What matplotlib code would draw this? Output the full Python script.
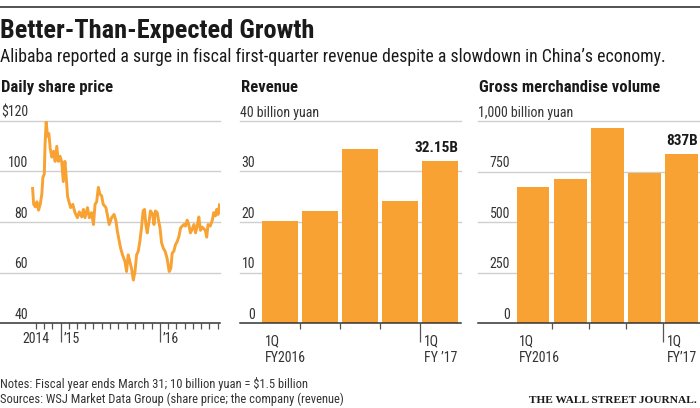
import pandas as pd
import matplotlib
matplotlib.use("Agg")
import matplotlib.pyplot as plt
import matplotlib.font_manager as fm

# pick a narrow sans if one is installed
font_names = {f.name for f in fm.fontManager.ttflist}
font_stretch = {(f.name, f.stretch) for f in fm.fontManager.ttflist}
for font in ['Roboto Condensed', 'Liberation Sans Narrow', 'Open Sans Condensed']:
    if font in font_names:
        plt.rcParams['font.family'] = font
        break
else:
    plt.rcParams['font.family'] = 'DejaVu Sans'
    if ('DejaVu Sans', 'condensed') in font_stretch:
        plt.rcParams['font.stretch'] = 'condensed'

# ---- data ----
price_dates = [
    "2014-09-19", "2014-09-23", "2014-09-29", "2014-10-05", "2014-10-11", "2014-10-17",
    "2014-10-23", "2014-10-27", "2014-11-01", "2014-11-04", "2014-11-08", "2014-11-13",
    "2014-11-18", "2014-11-23", "2014-11-29", "2014-12-05", "2014-12-11", "2014-12-17",
    "2014-12-23", "2014-12-29", "2015-01-04", "2015-01-10", "2015-01-16", "2015-01-20",
    "2015-01-26", "2015-01-31", "2015-02-06", "2015-02-14", "2015-02-22", "2015-03-03",
    "2015-03-10", "2015-03-19", "2015-03-25", "2015-03-31", "2015-04-09", "2015-04-16",
    "2015-04-24", "2015-05-01", "2015-05-07", "2015-05-13", "2015-05-19", "2015-05-25",
    "2015-05-31", "2015-06-06", "2015-06-16", "2015-06-21", "2015-06-28", "2015-07-07",
    "2015-07-16", "2015-07-23", "2015-07-28", "2015-08-04", "2015-08-09", "2015-08-16",
    "2015-08-25", "2015-08-31", "2015-09-06", "2015-09-12", "2015-09-18", "2015-09-25",
    "2015-10-01", "2015-10-07", "2015-10-13", "2015-10-19", "2015-10-25", "2015-10-31",
    "2015-11-05", "2015-11-10", "2015-11-15", "2015-11-22", "2015-11-27", "2015-12-05",
    "2015-12-10", "2015-12-15", "2015-12-22", "2015-12-27", "2016-01-01", "2016-01-07",
    "2016-01-13", "2016-01-20", "2016-01-27", "2016-02-04", "2016-02-10", "2016-02-15",
    "2016-02-21", "2016-02-27", "2016-03-05", "2016-03-11", "2016-03-17", "2016-03-23",
    "2016-03-29", "2016-04-04", "2016-04-10", "2016-04-16", "2016-04-22", "2016-04-28",
    "2016-05-05", "2016-05-11", "2016-05-17", "2016-05-23", "2016-05-29", "2016-06-04",
    "2016-06-10", "2016-06-16", "2016-06-21", "2016-06-26", "2016-07-04", "2016-07-11",
    "2016-07-17", "2016-07-23", "2016-07-28", "2016-08-02", "2016-08-07",
]
price_values = [
    93.3, 87.0, 86.0, 88.0, 84.7, 87.0,
    91.0, 97.7, 99.0, 111.0, 119.7, 114.0,
    115.0, 109.0, 105.7, 108.0, 104.0, 110.0,
    104.0, 106.0, 104.0, 96.0, 104.0, 99.0,
    90.0, 88.0, 85.7, 87.0, 83.7, 81.7,
    84.0, 82.0, 85.0, 81.7, 85.7, 81.7,
    83.7, 79.0, 87.0, 88.0, 93.7, 91.0,
    90.4, 87.0, 85.7, 83.0, 79.0, 81.7,
    83.0, 80.4, 76.4, 72.4, 69.7, 67.0,
    64.4, 60.4, 67.0, 64.4, 61.7, 57.0,
    60.4, 67.0, 68.4, 72.4, 77.7, 84.4,
    85.0, 79.0, 75.7, 80.4, 84.4, 83.0,
    79.0, 84.4, 83.7, 80.4, 77.7, 71.7,
    69.7, 68.4, 65.7, 60.4, 61.7, 67.7,
    68.4, 71.0, 72.4, 74.4, 77.7, 78.4,
    79.0, 78.4, 80.7, 79.0, 75.7, 77.0,
    79.0, 75.7, 78.4, 82.0, 76.7, 78.0,
    77.4, 76.7, 74.0, 79.0, 78.4, 80.4,
    83.7, 82.4, 85.0, 83.0, 86.8,
]
price_ticks = [40, 60, 80, 100, 120]
price_tick_labels = ["40", "60", "80", "100", "$120"]

quarters = ["1Q FY2016", "2Q FY2016", "3Q FY2016", "4Q FY2016", "1Q FY2017"]
revenue = [20.25, 22.17, 34.54, 24.18, 32.15]
revenue_ticks = [0, 10, 20, 30, 40]
revenue_tick_labels = ["0", "10", "20", "30", "40 billion yuan"]
gmv = [673, 713, 965, 741, 837]
gmv_ticks = [0, 250, 500, 750, 1000]
gmv_tick_labels = ["0", "250", "500", "750", "1,000 billion yuan"]

ORANGE = '#f7a233'
GRID = '#cfcfcf'
INK = '#1a1a1a'
TEXT = '#333333'

W, H = 700, 408
fig = plt.figure(figsize=(W / 100, H / 100), dpi=100)


def fx(x):
    return x / W


def fy(y):
    return 1 - y / H


# header
fig.add_artist(plt.Line2D([0, 1], [fy(7), fy(7)], color='#444444', lw=1.3))
fig.text(0, fy(38), "Better-Than-Expected Growth", fontsize=19, fontweight='bold',
         color=INK, va='baseline', ha='left')
fig.text(0, fy(62), "Alibaba reported a surge in fiscal first-quarter revenue despite a slowdown in China\u2019s economy.",
         fontsize=12.8, color=INK, va='baseline', ha='left')

y_top, y_bot = 121, 323


def make_axes(left, right):
    ax = fig.add_axes([fx(left), fy(y_bot), fx(right - left), (y_bot - y_top) / H])
    for s in ax.spines.values():
        s.set_visible(False)
    ax.set_yticks([])
    ax.patch.set_alpha(0)
    return ax


def grid_and_labels(ax, ticks, labels, label_x, ha, top_left=False):
    for i, (t, lab) in enumerate(zip(ticks, labels)):
        if i == 0:
            ax.axhline(t, color='#333333', lw=1.1, zorder=4, clip_on=False)
        else:
            ax.axhline(t, color=GRID, lw=1.0, zorder=0, clip_on=False)
        x, h = label_x, ha
        if top_left and i == len(ticks) - 1:
            x, h = 0, 'left'
        ax.annotate(lab, xy=(x, t), xycoords=('axes fraction', 'data'),
                    xytext=(0, 3), textcoords='offset points',
                    ha=h, va='baseline', fontsize=10, color=TEXT)


# ---- panel 1: share price ----
ax1 = make_axes(0, 220)
dates = pd.to_datetime(price_dates)
ax1.plot(dates, price_values, color=ORANGE, lw=2.1, solid_joinstyle='round', zorder=3)
ax1.set_ylim(40, 120)
ax1.set_xlim(pd.Timestamp("2014-05-22"), pd.Timestamp("2016-08-09"))
grid_and_labels(ax1, price_ticks, price_tick_labels, 28 / 220, 'right')
minor = pd.date_range("2014-10-01", "2016-08-01", freq='MS')
ax1.set_xticks(minor, minor=True)
ax1.set_xticks(pd.to_datetime(["2015-01-01", "2016-01-01"]))
ax1.set_xticklabels([])
ax1.tick_params(axis='x', which='minor', length=4, width=0.9, color='#555555')
ax1.tick_params(axis='x', which='major', length=14, width=0.9, color='#555555')
fig.text(fx(1), fy(92), "Daily share price", fontsize=12, fontweight='bold',
         color=INK, va='baseline')
for d, lab, ha, dx in [("2014-10-01", "2014", 'center', 0), ("2015-01-01", "\u201915", 'left', 2),
                       ("2016-01-01", "\u201916", 'left', 2)]:
    ax1.annotate(lab, xy=(pd.Timestamp(d), 0), xycoords=('data', 'axes fraction'),
                 xytext=(dx, -14.5), textcoords='offset points', ha=ha, va='baseline',
                 fontsize=10, color=TEXT)


# ---- bar panels ----
def bar_panel(left, right, values, ticks, labels, label_x, xlim, width, title, value_label,
              first_lab, last_lab):
    ax = make_axes(left, right)
    idx = list(range(len(values)))
    ax.bar(idx, values, width=width, color=ORANGE, zorder=2)
    ax.set_xlim(*xlim)
    ax.set_ylim(ticks[0], ticks[-1])
    grid_and_labels(ax, ticks, labels, label_x, 'right', top_left=True)
    ax.set_xticks([0.5, 1.5, 2.5])
    ax.set_xticks([3.5], minor=True)
    ax.set_xticklabels([])
    ax.tick_params(axis='x', which='major', length=4, width=0.9, color='#555555')
    ax.tick_params(axis='x', which='minor', length=14, width=0.9, color='#555555')
    fig.text(fx(left + 1), fy(92), title, fontsize=12, fontweight='bold', color=INK, va='baseline')
    ax.annotate(value_label, xy=(idx[-1] + width / 2, values[-1]), xytext=(0, 4),
                textcoords='offset points', ha='right', va='bottom',
                fontsize=11, fontweight='bold', color=INK)
    ax.annotate(first_lab, xy=(idx[0] - width / 2, 0), xycoords=('data', 'axes fraction'),
                xytext=(2, -8), textcoords='offset points', ha='left', va='top',
                fontsize=10, color=TEXT, linespacing=1.25)
    ax.annotate(last_lab, xy=(3.5, 0), xycoords=('data', 'axes fraction'),
                xytext=(3, -8), textcoords='offset points', ha='left', va='top',
                fontsize=10, color=TEXT, linespacing=1.25)
    return ax


ax2 = bar_panel(240, 461, revenue, revenue_ticks, revenue_tick_labels, 15 / 221,
                (-1.0, 4.52), 0.9, "Revenue", "32.15B", "1Q\nFY2016", "1Q\nFY \u201917")
ax3 = bar_panel(478, 700, gmv, gmv_ticks, gmv_tick_labels, 32 / 222,
                (-1.486, 4.51), 0.89, "Gross merchandise volume", "837B", "1Q\nFY2016", "1Q\nFY\u201917")

# footer
fig.text(0, fy(388), "Notes: Fiscal year ends March 31; 10 billion yuan = $1.5 billion",
         fontsize=9, color=TEXT, va='baseline')
fig.text(0, fy(403), "Sources: WSJ Market Data Group (share price; the company (revenue)",
         fontsize=9, color=TEXT, va='baseline')
fig.text(fx(697), fy(403), "THE WALL STREET JOURNAL.", fontsize=8.2, fontweight='bold',
         family='Liberation Serif', color=INK, va='baseline', ha='right')

fig.savefig("out.png", dpi=100)
